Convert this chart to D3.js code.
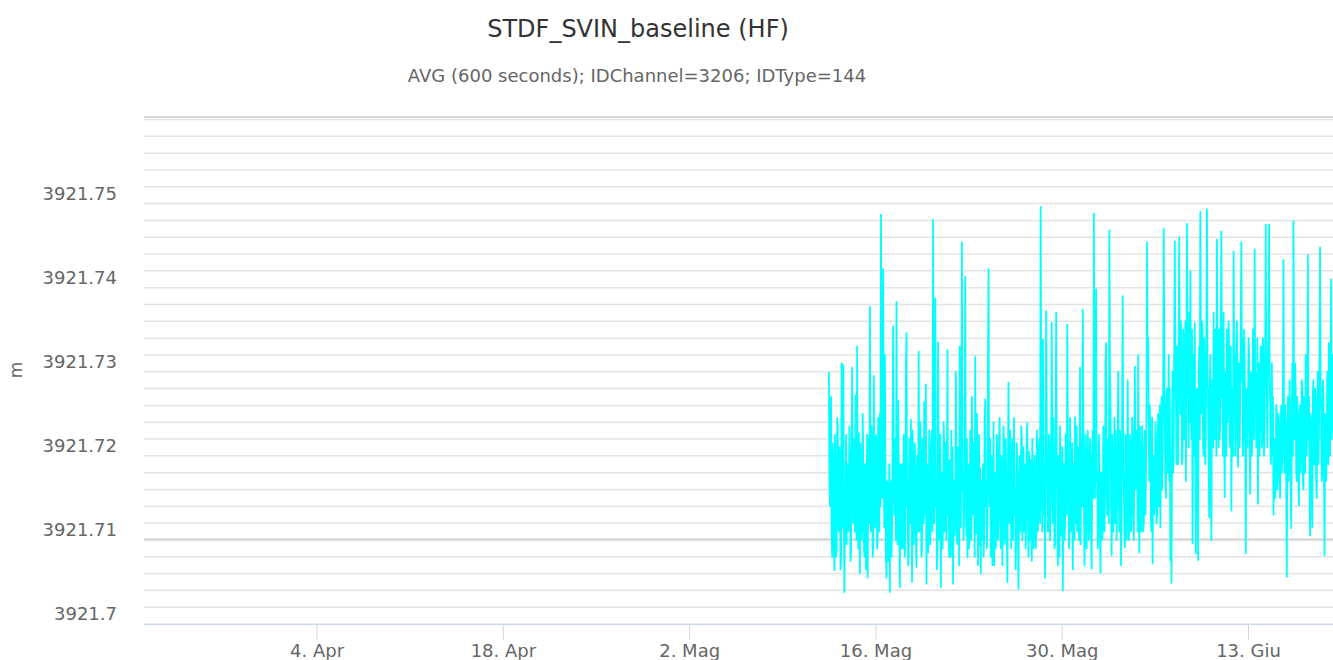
<!DOCTYPE html>
<html>
<head>
<meta charset="utf-8">
<script src="https://cdn.jsdelivr.net/npm/d3@7"></script>
<style>
  body { margin: 0; background: #fff; }
  svg { font-family: "DejaVu Sans", Verdana, sans-serif; }
</style>
</head>
<body>
<div class="chart"></div>
<script>
// Chart texts
const title = "STDF_SVIN_baseline (HF)";
const subtitle = "AVG (600 seconds); IDChannel=3206; IDType=144";
const yTitle = "m";

// Axis ticks
const tickDates = ["2022-04-04", "2022-04-18", "2022-05-02", "2022-05-16", "2022-05-30", "2022-06-13"];
const yLabels = [3921.70, 3921.71, 3921.72, 3921.73, 3921.74, 3921.75];
const strongGrid = [3921.708];

// Series: one value every hour from 12 May 2022 12:00,
// written as tenths of a millimetre above 3921.7 m
const seriesStart = "2022-05-12T12:00";
const baseValue = 3921.7;
const offsets = [
  // 12 May (from 12:00)
  280,150,120,215,250,90,60,195,170,75,44,205,
  // 13 May
  140,60,70,225,215,100,90,190,165,45,60,290,150,95,288,120,18,110,130,205,75,170,160,90,
  // 14 May
  110,215,170,55,65,180,285,130,100,200,190,90,252,110,80,310,140,70,207,120,40,195,150,80,
  // 15 May
  95,230,175,85,60,170,160,45,120,205,35,150,200,100,357,140,90,215,180,60,70,275,145,95,
  // 16 May
  110,205,185,70,80,225,160,90,230,120,467,250,130,180,402,160,95,300,170,60,35,150,140,55,
  // 17 May
  120,170,18,140,150,60,90,215,334,150,110,200,190,80,363,130,75,245,160,90,24,170,130,70,
  // 18 May
  170,90,70,205,140,60,95,285,326,120,150,50,60,200,180,100,223,140,30,210,155,75,100,195,
  // 19 May
  140,80,48,180,175,90,304,130,90,220,160,60,70,200,190,100,244,120,110,265,28,170,150,65,
  // 20 May
  85,210,180,75,120,195,210,90,461,160,100,240,367,120,150,45,70,315,175,80,95,205,24,140,
  // 21 May
  160,70,100,220,189,90,130,195,80,170,306,110,140,60,175,100,60,210,71,190,28,130,150,85,
  // 22 May
  110,280,170,80,75,190,140,50,310,130,95,205,434,140,160,80,120,225,393,150,85,200,59,170,
  // 23 May
  150,70,90,210,170,80,250,140,110,195,180,60,298,130,88,230,160,50,120,205,75,165,40,150,
  // 24 May
  130,80,170,60,80,215,247,120,150,70,100,295,402,150,120,200,60,180,165,50,95,220,50,160,
  // 25 May
  140,70,90,205,180,80,110,195,225,120,70,180,160,50,120,215,190,75,85,200,150,90,30,150,
  // 26 May
  267,140,100,210,170,70,130,200,80,160,225,110,140,45,95,195,160,85,22,150,180,90,110,215,
  // 27 May
  201,80,130,190,90,170,165,70,110,205,219,120,60,185,150,80,175,100,55,200,140,70,100,180,
  // 28 May
  130,70,85,210,180,90,120,195,200,100,476,250,150,90,318,200,110,170,35,180,352,220,160,90,
  // 29 May
  90,205,190,80,130,190,338,150,100,225,165,70,75,200,350,170,140,50,180,100,60,215,155,85,
  // 30 May
  120,190,20,140,170,80,95,205,200,110,336,200,150,70,80,225,175,90,110,195,45,170,160,80,
  // 31 May
  226,100,130,215,90,190,180,80,110,285,75,180,200,120,354,230,140,50,95,205,170,70,120,210,
  // 1 Jun
  150,80,100,200,180,90,46,170,210,130,468,260,130,220,378,150,160,70,90,205,175,90,41,160,
  // 2 Jun
  140,80,95,215,185,90,130,290,314,150,110,190,200,100,448,280,240,130,62,205,165,90,120,225,
  // 3 Jun
  100,210,170,80,140,200,280,130,90,210,190,50,125,230,370,160,150,90,71,205,180,80,110,270,
  // 4 Jun
  160,80,95,205,175,90,120,225,200,110,80,190,286,150,140,210,170,90,300,160,65,215,150,90,
  // 5 Jun
  120,215,180,90,100,190,210,110,160,240,434,280,320,200,150,240,190,100,90,225,52,180,170,110,
  // 6 Jun
  140,220,200,100,110,200,230,120,165,240,95,200,250,140,180,260,450,300,220,150,130,240,260,160,
  // 7 Jun
  200,300,150,260,56,180,29,200,280,160,190,320,435,280,250,170,310,220,170,330,440,290,230,340,
  // 8 Jun
  270,170,180,330,320,200,220,340,150,300,456,250,290,190,350,220,400,260,200,330,76,240,300,180,
  // 9 Jun
  338,180,64,250,260,170,56,280,310,200,470,300,230,340,330,190,180,320,280,170,210,340,473,260,
  // 10 Jun
  260,180,107,260,300,180,80,270,240,190,350,220,200,330,310,180,437,300,270,190,330,200,220,340,
  // 11 Jun
  447,250,290,180,350,210,131,260,280,180,330,220,240,340,310,200,190,310,115,250,260,180,423,280,
  // 12 Jun
  300,180,230,320,340,200,167,290,280,190,250,340,434,270,320,180,210,330,290,200,64,250,260,190,
  // 13 Jun
  235,320,300,190,135,280,270,180,210,330,320,200,425,260,280,190,230,320,123,270,290,180,250,310,
  // 14 Jun
  310,190,200,320,280,180,230,300,455,270,260,190,300,340,455,280,240,170,210,290,180,250,110,200,
  // 15 Jun
  200,130,150,240,230,140,170,230,210,150,130,220,240,160,180,250,413,200,160,240,220,150,36,190,
  // 16 Jun
  250,150,170,270,230,140,94,220,290,180,459,250,200,290,260,160,150,250,220,150,121,230,240,160,
  // 17 Jun
  190,270,260,150,140,250,230,160,300,200,180,280,419,200,250,160,85,230,210,150,95,250,270,170,
  // 18 Jun
  170,260,240,150,130,240,280,170,200,290,428,260,230,150,160,270,260,170,62,230,220,150,180,280,
  // 19 Jun
  250,170,314,240,180,280,390,200,220,300,280,200
];

// Layout
const W = 1333, H = 660;
const plot = {left: 144, right: 1333, top: 117, bottom: 624};

const itLocale = d3.timeFormatLocale({
  dateTime: "%A %e %B %Y, %X", date: "%d/%m/%Y", time: "%H:%M:%S",
  periods: ["AM", "PM"],
  days: ["Domenica", "Lunedì", "Martedì", "Mercoledì", "Giovedì", "Venerdì", "Sabato"],
  shortDays: ["Dom", "Lun", "Mar", "Mer", "Gio", "Ven", "Sab"],
  months: ["Gennaio", "Febbraio", "Marzo", "Aprile", "Maggio", "Giugno", "Luglio", "Agosto", "Settembre", "Ottobre", "Novembre", "Dicembre"],
  shortMonths: ["Gen", "Feb", "Mar", "Apr", "Mag", "Giu", "Lug", "Ago", "Set", "Ott", "Nov", "Dic"]
});
const fmtDate = itLocale.format("%-d. %b");
const parseDay = d3.timeParse("%Y-%m-%d");
const parseStart = d3.timeParse("%Y-%m-%dT%H:%M");

const start = parseStart(seriesStart);
const data = offsets.map((o, i) => ({
  t: d3.timeHour.offset(start, i),
  v: baseValue + o / 10000
}));

const x = d3.scaleTime()
  .domain([new Date(2022, 2, 22, 0, 40), new Date(2022, 5, 19, 9, 20)])
  .range([plot.left, plot.right]);
const y = d3.scaleLinear()
  .domain([3921.698, 3921.7583])
  .range([plot.bottom, plot.top]);

const svg = d3.select(".chart").append("svg")
  .attr("width", W)
  .attr("height", H);

// Titles
svg.append("text")
  .attr("x", 638).attr("y", 37)
  .attr("text-anchor", "middle")
  .attr("fill", "#333333")
  .style("font-size", "24px")
  .text(title);
svg.append("text")
  .attr("x", 637).attr("y", 82)
  .attr("text-anchor", "middle")
  .attr("fill", "#666666")
  .style("font-size", "18px")
  .text(subtitle);

// Grid lines every 0.002
const gridValues = d3.range(0, 31).map(i => 3921.698 + i * 0.002);
svg.append("g")
  .selectAll("line")
  .data(gridValues)
  .join("line")
  .attr("x1", plot.left).attr("x2", plot.right)
  .attr("y1", d => y(d)).attr("y2", d => y(d))
  .attr("stroke", "#e3e3e3")
  .attr("stroke-width", 1.5);

svg.append("g")
  .selectAll("line")
  .data(strongGrid)
  .join("line")
  .attr("x1", plot.left).attr("x2", plot.right)
  .attr("y1", d => y(d) - 0.5).attr("y2", d => y(d) - 0.5)
  .attr("stroke", "#d8d8d8")
  .attr("stroke-width", 2.5);

// top border
svg.append("line")
  .attr("x1", plot.left).attr("x2", plot.right)
  .attr("y1", plot.top).attr("y2", plot.top)
  .attr("stroke", "#d8d8d8")
  .attr("stroke-width", 2);

// Y axis labels
const yAxis = d3.axisLeft(y)
  .tickValues(yLabels)
  .tickSize(0)
  .tickPadding(27)
  .tickFormat(d => String(+d.toFixed(2)));
const gy = svg.append("g")
  .attr("transform", `translate(${plot.left},0)`)
  .call(yAxis);
gy.select(".domain").remove();
gy.selectAll("text")
  .attr("dy", "0.68em")
  .attr("fill", "#666666")
  .style("font-size", "18px")
  .style("font-family", "DejaVu Sans");

svg.append("text")
  .attr("transform", "translate(22,370) rotate(-90)")
  .attr("text-anchor", "middle")
  .attr("fill", "#666666")
  .style("font-size", "17px")
  .text(yTitle);

// X axis
const xAxis = d3.axisBottom(x)
  .tickValues(tickDates.map(parseDay))
  .tickSize(16)
  .tickPadding(4)
  .tickFormat(fmtDate)
  .tickSizeOuter(0);
const gx = svg.append("g")
  .attr("transform", `translate(0,${plot.bottom})`)
  .call(xAxis);
gx.select(".domain").attr("stroke", "#ccd6eb");
gx.selectAll(".tick line").attr("stroke", "#ccd6eb");
gx.selectAll("text")
  .attr("fill", "#666666")
  .style("font-size", "18px")
  .style("font-family", "DejaVu Sans");

// Series
svg.append("clipPath").attr("id", "clip")
  .append("rect")
  .attr("x", plot.left).attr("y", plot.top)
  .attr("width", plot.right - plot.left)
  .attr("height", plot.bottom - plot.top);

const line = d3.line()
  .x(d => x(d.t))
  .y(d => y(d.v));

svg.append("path")
  .datum(data)
  .attr("clip-path", "url(#clip)")
  .attr("fill", "none")
  .attr("stroke", "#00ffff")
  .attr("stroke-width", 1.8)
  .attr("stroke-linejoin", "round")
  .attr("d", line);
</script>
</body>
</html>
